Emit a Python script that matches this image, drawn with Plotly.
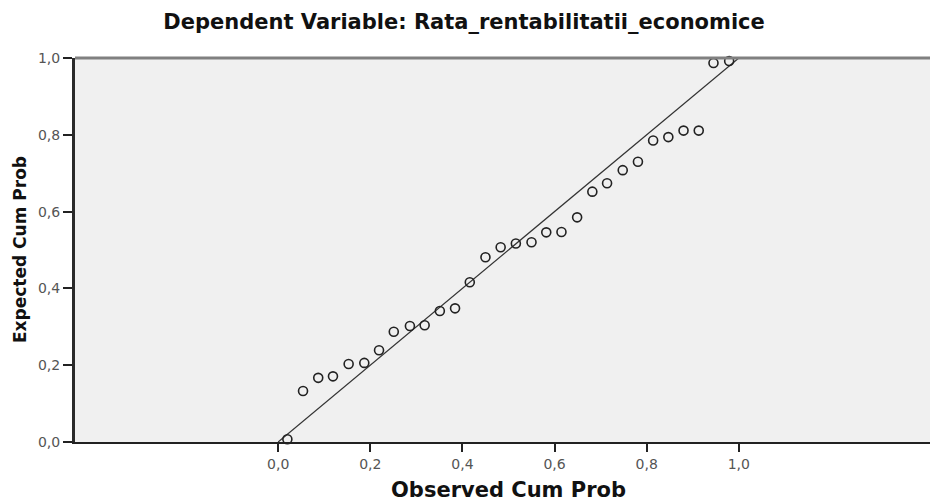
import plotly.graph_objects as go

# Observed cumulative probability (x) and expected cumulative probability (y)
observed_cum_prob = [0.020, 0.054, 0.087, 0.119, 0.153, 0.187, 0.219, 0.251, 0.286, 0.318,
                     0.351, 0.384, 0.416, 0.450, 0.483, 0.516, 0.550, 0.582, 0.615, 0.649,
                     0.682, 0.714, 0.748, 0.781, 0.814, 0.847, 0.880, 0.913, 0.945, 0.979]
expected_cum_prob = [0.007, 0.133, 0.167, 0.171, 0.203, 0.206, 0.239, 0.287, 0.302, 0.304,
                     0.341, 0.348, 0.416, 0.481, 0.507, 0.517, 0.520, 0.546, 0.547, 0.585,
                     0.652, 0.674, 0.708, 0.730, 0.785, 0.794, 0.811, 0.811, 0.987, 0.992]
diag_x = [0.0, 1.0]
diag_y = [0.0, 1.0]
tick_vals = [0.0, 0.2, 0.4, 0.6, 0.8, 1.0]

title_text = "Dependent Variable: Rata_rentabilitatii_economice"
x_title = "Observed Cum Prob"
y_title = "Expected Cum Prob"

FONT = "DejaVu Sans, Liberation Sans, Arial, sans-serif"

fig = go.Figure()
fig.add_trace(go.Scatter(x=diag_x, y=diag_y, mode="lines",
                         line=dict(color="#333333", width=1.2),
                         hoverinfo="skip", showlegend=False, cliponaxis=False))
fig.add_trace(go.Scatter(x=observed_cum_prob, y=expected_cum_prob, mode="markers",
                         marker=dict(symbol="circle-open", size=9, color="#222222",
                                     line=dict(width=1.6, color="#222222")),
                         showlegend=False, cliponaxis=False))

fig.update_layout(
    width=930, height=501,
    margin=dict(l=75, r=0, t=58, b=59),
    paper_bgcolor="white",
    plot_bgcolor="#F0F0F0",
    separators=",.",
    font=dict(family=FONT, color="#444444", size=14),
    title=dict(text="<b>" + title_text + "</b>", x=0.499, xanchor="center", xref="container",
               y=0.956, yanchor="middle", yref="container",
               font=dict(family=FONT, size=21, color="#111111")),
    xaxis=dict(range=[-0.441, 1.415], tickvals=tick_vals, tickformat=".1f",
               showgrid=False, zeroline=False, showline=True, linecolor="#222222",
               linewidth=2, ticks="outside", ticklen=8, tickwidth=2, tickcolor="#222222",
               tickfont=dict(size=14, color="#555555")),
    yaxis=dict(range=[0, 1], tickvals=tick_vals, tickformat=".1f",
               showgrid=False, zeroline=False, showline=True, linecolor="#2a2a2a",
               linewidth=3, ticks="outside", ticklen=9, tickwidth=2, tickcolor="#222222",
               tickfont=dict(size=14, color="#555555")),
    shapes=[dict(type="line", xref="paper", yref="paper", x0=0, x1=1, y0=1, y1=1,
                 line=dict(color="#808080", width=3))],
    annotations=[
        dict(text="<b>" + x_title + "</b>", x=0.5, xref="x", y=-0.125, yref="paper",
             xanchor="center", yanchor="middle", showarrow=False,
             font=dict(family=FONT, size=21, color="#111111")),
        dict(text="<b>" + y_title + "</b>", x=-0.0643, xref="paper", y=0.5, yref="y",
             xanchor="center", yanchor="middle", textangle=-90, showarrow=False,
             font=dict(family=FONT, size=17, color="#111111")),
    ],
)

# Remove the browser's default 8px body margin so the figure fills the window exactly.
fig.write_html("out.html",
               config={"displayModeBar": False},
               post_script="document.body.style.margin='0';document.body.style.overflow='hidden';")
